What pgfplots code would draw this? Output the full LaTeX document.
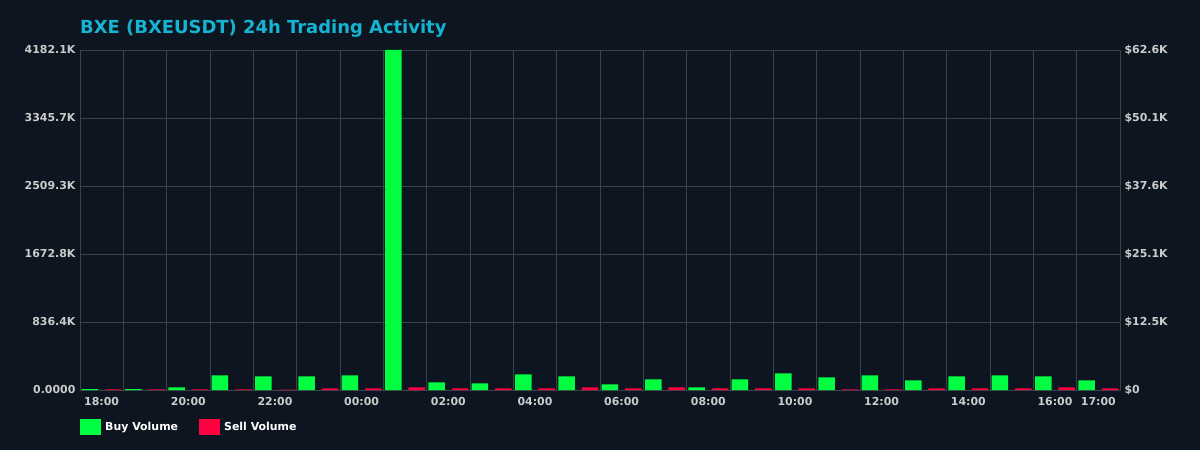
\documentclass[border=0pt]{standalone}
\usepackage{fontspec}
\setmainfont{DejaVu Sans}
\usepackage{pgfplots}
\pgfplotsset{compat=1.18}

\definecolor{bgcol}{HTML}{0D1620}
\definecolor{gridcol}{HTML}{3A424C}
\definecolor{buycol}{HTML}{00FF41}
\definecolor{sellcol}{HTML}{FF0040}
\definecolor{titlecol}{HTML}{14B4D2}
\definecolor{tickcol}{HTML}{CCCCCC}

% hourly volumes, in thousands of BXE
\pgfplotstableread{
h  buy     sell
0  10      8
1  10      8
2  33      8
3  180     8
4  168     6
5  168     20
6  180     20
7  4182.1  33
8  94      20
9  82      20
10 193     20
11 168     33
12 70      20
13 131     33
14 33      20
15 131     20
16 205     20
17 156     8
18 180     8
19 119     20
20 168     20
21 180     20
22 168     33
23 119     20
}\volumes

\begin{document}
\begin{tikzpicture}
\fill[bgcol] (-80bp,-60bp) rectangle (1120bp,390bp);
\begin{axis}[
  at={(0,0)}, anchor=south west,
  scale only axis,
  width=1040bp, height=340bp,
  xmin=-0.5, xmax=23.5,
  ymin=0, ymax=4182.1,
  ybar, bar width=0.38,
  xtick={0,2,4,6,8,10,12,14,16,18,20,22,23},
  xticklabels={18:00,20:00,22:00,00:00,02:00,04:00,06:00,08:00,10:00,12:00,14:00,16:00,17:00},
  minor xtick={-0.5,0.5,...,23.5},
  xminorgrids, ymajorgrids,
  ytick={0,836.42,1672.84,2509.26,3345.68,4182.1},
  yticklabels={0.0000,836.4K,1672.8K,2509.3K,3345.7K,4182.1K},
  major tick length=0pt, minor tick length=0pt,
  axis line style={gridcol},
  grid style={gridcol, line width=0.8bp},
  minor grid style={gridcol, line width=0.8bp},
  tick label style={font=\fontsize{11}{13}\selectfont\bfseries, text=tickcol},
  xticklabel style={yshift=-4bp},
  yticklabel style={xshift=-1bp},
  title={BXE (BXEUSDT) 24h Trading Activity},
  title style={at={(0,1)}, anchor=base west, yshift=11bp, inner sep=0pt,
    font=\fontsize{18}{20}\selectfont\bfseries, text=titlecol},
  legend columns=2,
  legend style={at={(0,0)}, anchor=north west, yshift=-29bp, draw=none, fill=none,
    inner sep=0pt, text=white, font=\fontsize{11}{13}\selectfont\bfseries,
    /tikz/every even column/.append style={column sep=19bp}},
  legend image code/.code={\fill[#1] (0bp,-8bp) rectangle (20.5bp,8bp); \path (23bp,0bp);},
]
\addplot[fill=buycol, draw=none, bar shift=-0.27] table[x=h, y=buy] {\volumes};
\addlegendentry{Buy Volume}
\addplot[fill=sellcol, draw=none, bar shift=0.27] table[x=h, y=sell] {\volumes};
\addlegendentry{Sell Volume}
\end{axis}
\begin{axis}[
  at={(0,0)}, anchor=south west,
  scale only axis,
  width=1040bp, height=340bp,
  xmin=-0.5, xmax=23.5,
  ymin=0, ymax=62.6,
  axis y line*=right, hide x axis,
  ytick={0,12.52,25.04,37.56,50.08,62.6},
  yticklabels={\$0,\$12.5K,\$25.1K,\$37.6K,\$50.1K,\$62.6K},
  major tick length=0pt,
  axis line style={gridcol},
  tick label style={font=\fontsize{11}{13}\selectfont\bfseries, text=tickcol},
  yticklabel style={xshift=1bp},
]
\end{axis}
\pgfresetboundingbox
\useasboundingbox (-80bp,-60bp) rectangle (1120bp,390bp);
\end{tikzpicture}
\end{document}
